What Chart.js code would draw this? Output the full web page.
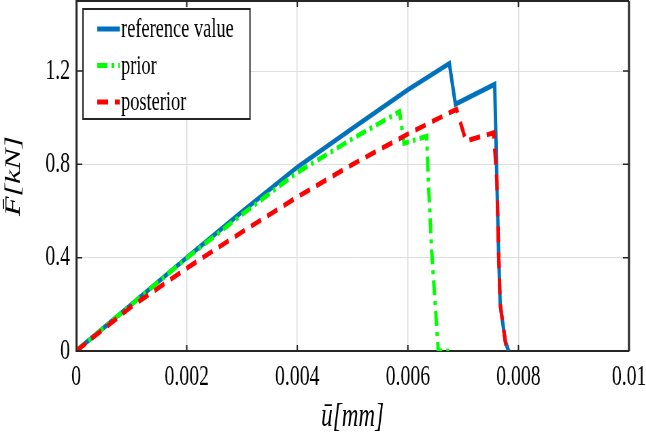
<!DOCTYPE html>
<html lang="en">
<head>
<meta charset="UTF-8">
<title>F - u curve</title>
<script src="https://cdn.jsdelivr.net/npm/chart.js@4.4.1/dist/chart.umd.min.js"></script>
<style>
  html, body { margin: 0; padding: 0; background: #fff; }
  canvas { display: block; }
</style>
</head>
<body>
<!-- drawn wide and shown narrow: the original figure is squeezed horizontally -->
<canvas id="chart" width="950" height="438" style="width:646px;height:438px"></canvas>
<script>
// displacement u [mm] and force F [kN]
var refU   = [0, 0.001, 0.002, 0.003, 0.004, 0.005, 0.006, 0.00675, 0.00686, 0.00757, 0.00761, 0.00764, 0.00767, 0.00776, 0.00782];
var refF   = [0, 0.2, 0.4, 0.597, 0.788, 0.955, 1.12, 1.232, 1.058, 1.143, 0.73, 0.43, 0.2, 0.045, 0];

var priorU = [0, 0.001, 0.002, 0.003, 0.004, 0.005, 0.00585, 0.00593, 0.00634, 0.00637, 0.00643, 0.00655, 0.00676];
var priorF = [0, 0.2, 0.398, 0.585, 0.765, 0.91, 1.026, 0.89, 0.92, 0.73, 0.43, 0, 0];

var postU  = [0, 0.001, 0.002, 0.003, 0.004, 0.005, 0.006, 0.00688, 0.00705, 0.00755, 0.00761, 0.00764, 0.00767, 0.00776, 0.00779, 0.00785];
var postF  = [0, 0.19, 0.355, 0.51, 0.66, 0.8, 0.93, 1.036, 0.9, 0.935, 0.73, 0.43, 0.2, 0.045, 0, 0];

var xTicks = [0, 0.002, 0.004, 0.006, 0.008, 0.01];
var xTickLabels = ['0', '0.002', '0.004', '0.006', '0.008', '0.01'];
var yTicks = [0, 0.4, 0.8, 1.2];
var yTickLabels = ['0', '0.4', '0.8', '1.2'];

var serif = '"Liberation Serif", "Times New Roman", serif';
var ink = '#262626';

function toPoints(xs, ys) {
    return xs.map(function (x, i) { return { x: x, y: ys[i] }; });
}

// box around the axes, inward tick marks and the framed legend
var frame = {
    id: 'frame',
    afterDraw: function (chart) {
        var ctx = chart.ctx, a = chart.chartArea;
        var xs = chart.scales.x, ys = chart.scales.y;
        ctx.save();
        ctx.strokeStyle = ink;

        ctx.lineWidth = 2;
        ctx.beginPath();
        ctx.moveTo(a.left, a.top);
        ctx.lineTo(a.right, a.top);
        ctx.stroke();
        ctx.lineWidth = 3;
        ctx.beginPath();
        ctx.moveTo(a.right, a.top);
        ctx.lineTo(a.right, a.bottom);
        ctx.stroke();

        ctx.lineWidth = 2;
        xTicks.forEach(function (v) {
            var px = xs.getPixelForValue(v);
            ctx.beginPath();
            ctx.moveTo(px, a.bottom); ctx.lineTo(px, a.bottom - 6);
            ctx.moveTo(px, a.top); ctx.lineTo(px, a.top + 6);
            ctx.stroke();
        });
        ctx.lineWidth = 1.5;
        yTicks.forEach(function (v) {
            var py = ys.getPixelForValue(v);
            ctx.beginPath();
            ctx.moveTo(a.left, py); ctx.lineTo(a.left + 9, py);
            ctx.moveTo(a.right, py); ctx.lineTo(a.right - 9, py);
            ctx.stroke();
        });

        // legend
        var sets = chart.data.datasets;
        ctx.font = '27px ' + serif;
        var textW = 0;
        sets.forEach(function (ds) { textW = Math.max(textW, ctx.measureText(ds.label).width); });
        var bx = a.left + 10, by = a.top + 8;
        var lineX = bx + 21, lineLen = 33, textX = lineX + lineLen + 2;
        var bw = textX + textW + 24 - bx, bh = 110;
        ctx.fillStyle = '#fff';
        ctx.fillRect(bx, by, bw, bh);
        ctx.lineWidth = 2;
        ctx.strokeStyle = ink;
        ctx.strokeRect(bx, by, bw, bh);

        ctx.textBaseline = 'middle';
        ctx.textAlign = 'left';
        sets.forEach(function (ds, i) {
            var y = by + 20 + i * 36.5;
            ctx.strokeStyle = ds.borderColor;
            ctx.lineWidth = ds.borderWidth;
            ctx.setLineDash(ds.borderDash || []);
            ctx.beginPath();
            ctx.moveTo(lineX, y);
            ctx.lineTo(lineX + lineLen, y);
            ctx.stroke();
            ctx.setLineDash([]);
            ctx.fillStyle = '#000';
            ctx.fillText(ds.label, textX, y + 1);
        });
        ctx.restore();
    }
};

new Chart(document.getElementById('chart'), {
    type: 'line',
    data: {
        datasets: [{
            label: 'reference value',
            data: toPoints(refU, refF),
            borderColor: '#0072BD',
            borderWidth: 5,
            order: 3
        }, {
            label: 'prior',
            data: toPoints(priorU, priorF),
            borderColor: '#00FF00',
            borderWidth: 5,
            borderDash: [15, 6, 4, 6],
            order: 2
        }, {
            label: 'posterior',
            data: toPoints(postU, postF),
            borderColor: '#FF0000',
            borderWidth: 5,
            borderDash: [16, 10],
            order: 1
        }]
    },
    options: {
        responsive: false,
        animation: false,
        layout: { padding: { top: 1, right: 25, left: 0, bottom: 0 } },
        elements: {
            point: { radius: 0 },
            line: { tension: 0, fill: false }
        },
        plugins: {
            legend: { display: false },
            tooltip: { enabled: false }
        },
        scales: {
            x: {
                type: 'linear',
                min: 0,
                max: 0.01,
                afterBuildTicks: function (s) {
                    s.ticks = xTicks.map(function (v) { return { value: v }; });
                },
                afterFit: function (s) {
                    s.height = 87;
                    s.paddingLeft = 0;
                    s.paddingRight = 0;
                },
                grid: { color: '#dedede', lineWidth: 1.5, drawTicks: false },
                border: { display: true, color: ink, width: 2 },
                ticks: {
                    padding: 9,
                    color: '#000',
                    maxRotation: 0,
                    autoSkip: false,
                    font: { family: serif, size: 29 },
                    callback: function (v, i) { return xTickLabels[i]; }
                },
                title: {
                    display: true,
                    text: 'ū[mm]',
                    color: '#000',
                    font: { family: serif, size: 34, style: 'italic' },
                    padding: { top: 0, bottom: 1 }
                }
            },
            y: {
                min: 0,
                max: 1.5,
                afterBuildTicks: function (s) {
                    s.ticks = yTicks.map(function (v) { return { value: v }; });
                },
                afterFit: function (s) {
                    s.width = 112;
                    s.paddingTop = 0;
                    s.paddingBottom = 0;
                },
                grid: { color: '#dedede', lineWidth: 1, drawTicks: false },
                border: { display: true, color: ink, width: 3 },
                ticks: {
                    padding: 9,
                    color: '#000',
                    font: { family: serif, size: 29 },
                    callback: function (v, i) { return yTickLabels[i]; }
                },
                title: {
                    display: true,
                    text: 'F\u0304[kN]',
                    color: '#000',
                    font: { family: serif, size: 32, style: 'italic' },
                    padding: { top: 1, bottom: 0 }
                }
            }
        }
    },
    plugins: [frame]
});
</script>
</body>
</html>
